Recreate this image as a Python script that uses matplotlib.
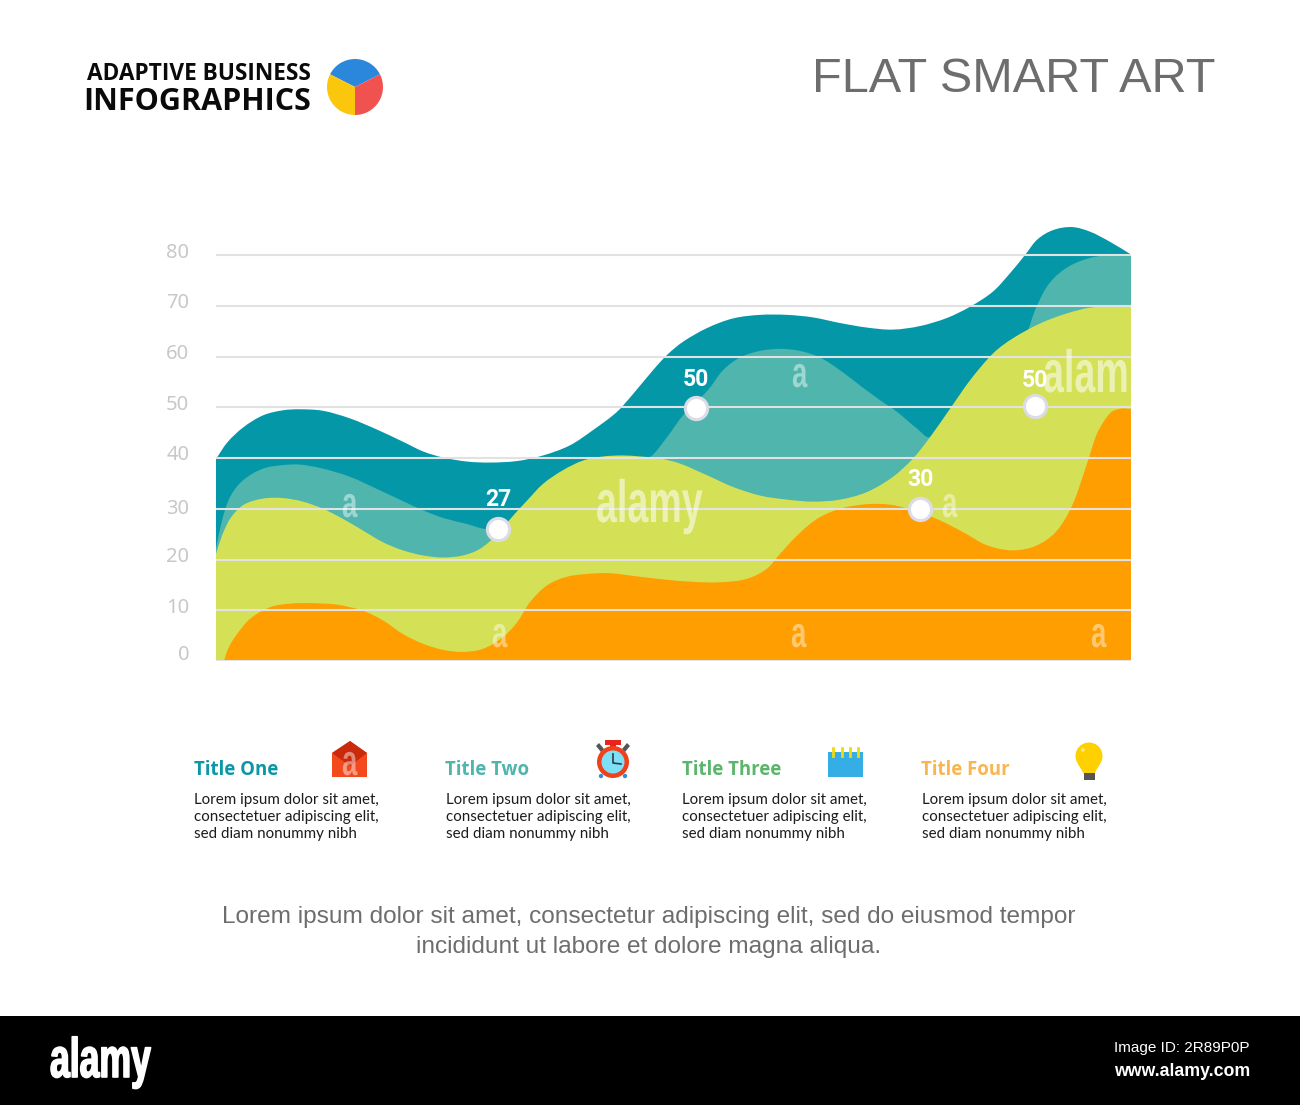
# -*- coding: utf-8 -*-
import matplotlib
matplotlib.use('Agg')
import matplotlib.pyplot as plt
from matplotlib.patches import Circle, PathPatch, Polygon, Rectangle
from matplotlib.patheffects import AbstractPathEffect
from matplotlib.path import Path
from matplotlib.transforms import Affine2D, ScaledTranslation

# values, x is the distance from the left end of the plot
one_x = [0, 11, 27, 47, 67, 84, 107, 134, 161, 187, 207, 227, 251, 274, 301, 327, 354, 377, 401, 417, 437,
         451, 467, 491, 517, 544, 571, 597, 624, 651, 677, 704, 731, 754, 777, 794, 809, 821, 837, 856, 874, 894, 915]
one_y = [39.8, 43.0, 46.0, 48.4, 49.4, 49.6, 49.3, 47.8, 45.6, 43.2, 41.3, 40.1, 39.3, 39.1, 39.4, 40.5, 42.5, 45.5, 49.1, 52.6, 57.3,
         60.3, 62.9, 65.6, 67.5, 68.2, 68.2, 67.7, 66.6, 65.7, 65.3, 66.0, 67.6, 69.8, 72.8, 76.4, 80.0, 83.0, 84.9, 85.5, 84.6, 82.6, 80.1]

two_x = [0, 6, 14, 27, 47, 67, 84, 107, 134, 161, 187, 207, 227, 251, 271, 290, 340, 390, 434,
         451, 467, 492, 507, 524, 544, 564, 584, 604, 624, 644, 664, 681, 701, 714, 760, 800, 812,
         819, 831, 847, 867, 891, 915]
two_y = [22.1, 27.7, 32.3, 35.6, 37.9, 38.6, 38.7, 37.9, 36.3, 33.9, 31.5, 29.7, 28.2, 27.0, 26.0, 27.0, 31.0, 37.0, 40.2,
         44.1, 48.4, 53.4, 57.3, 59.8, 61.1, 61.5, 61.1, 59.8, 57.3, 54.3, 51.4, 49.1, 45.8, 44.1, 50.0, 60.0, 65.2,
         69.1, 73.8, 77.0, 79.0, 80.0, 80.0]

three_x = [0, 6, 14, 27, 47, 67, 87, 107, 127, 147, 167, 187, 207, 227, 247, 264, 281, 297, 311, 327, 347, 367, 387, 407, 424,
           444, 464, 491, 517, 544, 571, 597, 624, 651, 677, 697, 714, 734, 754, 777, 797, 824, 851, 877, 915]
three_y = [21.1, 24.7, 28.0, 30.7, 32.0, 32.1, 31.4, 30.0, 28.0, 25.7, 23.4, 21.8, 20.8, 20.4, 20.8, 22.1, 24.9, 28.6, 31.6, 34.9, 37.6, 39.5, 40.3, 40.5, 40.3,
           39.9, 38.9, 36.6, 34.3, 32.6, 31.8, 31.4, 31.8, 33.3, 36.3, 39.9, 44.1, 49.7, 55.3, 60.6, 63.6, 66.5, 68.5, 69.7, 69.8]

four_x = [8, 12, 21, 34, 54, 74, 94, 121, 147, 167, 187, 207, 227, 247, 267, 287, 301, 314, 331, 351, 374, 394, 424,
          451, 477, 504, 531, 551, 564, 581, 601, 624, 651, 674, 697, 724, 747, 771, 797, 821, 841, 857, 871, 881, 894, 904, 915]
four_y = [0.0, 2.4, 5.3, 8.3, 10.6, 11.3, 11.4, 11.1, 9.9, 8.0, 5.3, 3.4, 2.2, 1.8, 2.4, 4.7, 7.6, 11.6, 14.9, 16.6, 17.2, 17.3, 16.6,
          16.0, 15.6, 15.5, 16.2, 18.2, 21.1, 24.7, 28.0, 30.0, 30.9, 30.8, 29.7, 27.7, 25.4, 22.8, 21.8, 22.8, 25.7, 31.0, 38.9, 44.8, 48.8, 49.7, 49.7]

dot_x = [282, 480, 704, 819]
dot_y = [26, 49.9, 30, 50.2]
dot_labels = ['27', '50', '30', '50']
dot_label_up = [21, 20, 21, 18.5]

y_ticks = [0, 10, 20, 30, 40, 50, 60, 70, 80]
logo_slices = [126, 117, 117]

titles = ['Title One', 'Title Two', 'Title Three', 'Title Four']
title_colors = ['#0c97a6', '#4fb5ad', '#5cb56c', '#f9b650']
legend_left = [194, 445, 682, 921]
lorem = ['Lorem ipsum dolor sit amet,', 'consectetuer adipiscing elit,', 'sed diam nonummy nibh']

TEAL = '#0497a8'
LIGHT_TEAL = '#4fb5ad'
YELLOW = '#d4e157'
ORANGE = '#ff9e00'
GREY = '#6d6d6d'


class Squeeze(AbstractPathEffect):
    # no condensed font installed, so narrow the glyphs from the left end of the text
    def __init__(self, sx, lw=0):
        super().__init__()
        self.sx = sx
        self.lw = lw

    def draw_path(self, renderer, gc, tpath, affine, rgbFace=None):
        gc.set_linewidth(self.lw)
        renderer.draw_path(gc, tpath, Affine2D().scale(self.sx, 1) + affine, rgbFace)


def area(ax, xs, ys, color, z):
    # smooth outline through the read points, closed along the baseline
    n = len(xs)
    slopes = []
    for i in range(n):
        a, b = max(i - 1, 0), min(i + 1, n - 1)
        slopes.append((ys[b] - ys[a]) / (xs[b] - xs[a]))
    verts = [(xs[0], 0), (xs[0], ys[0])]
    codes = [Path.MOVETO, Path.LINETO]
    for i in range(n - 1):
        h = (xs[i + 1] - xs[i]) / 3
        verts += [(xs[i] + h, ys[i] + slopes[i] * h),
                  (xs[i + 1] - h, ys[i + 1] - slopes[i + 1] * h),
                  (xs[i + 1], ys[i + 1])]
        codes += [Path.CURVE4] * 3
    verts += [(xs[-1], 0), (xs[0], 0)]
    codes += [Path.LINETO, Path.CLOSEPOLY]
    ax.add_patch(PathPatch(Path(verts, codes), facecolor=color, lw=0, zorder=z))


fig = plt.figure(figsize=(13, 11.05), dpi=100, facecolor='white')

# chart, y scale is 5.075 px per unit
ax = fig.add_axes([216 / 1300, (1105 - 661) / 1105, 915 / 1300, 456.75 / 1105])
ax.patch.set_alpha(0)
ax.set_xlim(0, 915)
ax.set_ylim(0, 90)
area(ax, one_x, one_y, TEAL, 1)
area(ax, two_x, two_y, LIGHT_TEAL, 2)
area(ax, three_x, three_y, YELLOW, 3)
area(ax, four_x, four_y, ORANGE, 4)
for t in y_ticks:
    ax.axhline(t, color='#e2e2e2', lw=1.5, zorder=5)
ax.plot(dot_x, dot_y, ls='none', marker='o', ms=16, mfc='white', mec='#dcdce6', mew=2.2, zorder=6)
for x, y, s, up in zip(dot_x, dot_y, dot_labels, dot_label_up):
    ax.annotate(s, (x, y), xytext=(0, up), textcoords='offset points', ha='center', va='center',
                color='white', fontsize=16.5, fontweight='bold', family='Roboto', zorder=7)

for s in ax.spines.values():
    s.set_visible(False)
ax.set_xticks([])
ax.set_yticks(y_ticks)
ax.tick_params(axis='y', length=0, pad=19.2, labelsize=14.5, labelcolor='#c8c8c8')
for t, lab in zip(y_ticks, ax.get_yticklabels()):
    lab.set_family('Noto Sans')
    up = {0: 9, 30: 2}.get(t, 5)
    lab.set_transform(lab.get_transform() + ScaledTranslation(0, up / 100, fig.dpi_scale_trans))

# everything else goes in pixel coordinates on top
pg = fig.add_axes([0, 0, 1, 1])
pg.patch.set_alpha(0)
pg.set_xlim(0, 1300)
pg.set_ylim(1105, 0)
pg.axis('off')

pg.text(1215, 79, 'FLAT SMART ART', ha='right', va='center', fontsize=35, color=GREY, family='Liberation Sans')
pg.text(311, 74, 'ADAPTIVE BUSINESS', ha='right', va='center', fontsize=16.3, fontweight='bold', color='#0a0a0a', family='Open Sans')
pg.text(311, 102, 'INFOGRAPHICS', ha='right', va='center', fontsize=22, fontweight='bold', color='#0a0a0a', family='Open Sans')

pie_ax = fig.add_axes([327 / 1300, (1105 - 115) / 1105, 56 / 1300, 56 / 1105])
pie_ax.pie(logo_slices, colors=['#2b87dc', '#fbc70d', '#f0524f'], startangle=27, radius=1.0)
pie_ax.set_xlim(-1, 1)
pie_ax.set_ylim(-1, 1)

for left, title, col in zip(legend_left, titles, title_colors):
    pg.text(left, 770, title, ha='left', va='center', fontsize=13.4, fontweight='bold', color=col, family='Open Sans')
    for i, line in enumerate(lorem):
        pg.text(left + 0.5, 800 + i * 17, line, ha='left', va='center', fontsize=10.9, color='#1c1c1c', family='Lato')

# house icon
pg.add_patch(Polygon([(332, 753), (350, 741), (367, 753), (367, 777), (332, 777)], color='#f24a1d', lw=0))
pg.add_patch(Polygon([(332, 753), (350, 741), (367, 753), (350, 766)], color='#c92a0b', lw=0))
# clock icon
pg.add_patch(Rectangle((605, 740), 16, 5, color='#e8251c', lw=0))
pg.add_patch(Rectangle((610, 744), 6, 4, color='#e8251c', lw=0))
pg.add_patch(Polygon([(596, 746), (599, 743), (604, 749), (601, 752)], color='#555555', lw=0))
pg.add_patch(Polygon([(630, 746), (627, 743), (622, 749), (625, 752)], color='#555555', lw=0))
pg.add_patch(Circle((601, 776), 2.2, color='#2f8fd0', lw=0))
pg.add_patch(Circle((625, 776), 2.2, color='#2f8fd0', lw=0))
pg.add_patch(Circle((613, 762), 16, color='#f0401c', lw=0))
pg.add_patch(Circle((613, 762), 11.5, color='#7fe0f5', lw=0))
pg.plot([613, 613, 621], [754, 763, 764], color='#2b3a4a', lw=1.2)
# notepad icon
pg.add_patch(Rectangle((828, 752), 35, 25, color='#35aee6', lw=0))
for rx in [833, 842, 850, 858]:
    pg.plot([rx, rx], [748, 756], color='#f5d90a', lw=2)
# bulb icon
pg.add_patch(Polygon([(1078, 764), (1100, 764), (1094, 774), (1084, 774)], color='#ffd000', lw=0))
pg.add_patch(Circle((1089, 756), 13.5, color='#ffd000', lw=0))
pg.add_patch(Circle((1083, 750), 1.8, color='#ffe98a', lw=0))
pg.add_patch(Rectangle((1084, 773), 11, 7, color='#555555', lw=0))

pg.text(649, 917, 'Lorem ipsum dolor sit amet, consectetur adipiscing elit, sed do eiusmod tempor',
        ha='center', va='center', fontsize=17.6, color=GREY, family='Liberation Sans')
pg.text(649, 947, 'incididunt ut labore et dolore magna aliqua.',
        ha='center', va='center', fontsize=17.6, color=GREY, family='Liberation Sans')

# stock photo watermarks, left end and baseline of each
for wx, wy in [(342, 517), (492, 647), (791, 647), (792, 387), (942, 517), (1091, 647), (342, 775)]:
    pg.text(wx, wy, 'a', ha='left', va='baseline', fontsize=31, fontweight='bold', color='white', alpha=0.45,
            family='Liberation Sans', path_effects=[Squeeze(0.64)])
for wx, wy, mark in [(596, 522, 'alamy'), (1043, 392, 'alam')]:
    pg.text(wx, wy, mark, ha='left', va='baseline', fontsize=43, fontweight='bold', color='white', alpha=0.55,
            family='Liberation Sans', path_effects=[Squeeze(0.63)])

# black band
pg.add_patch(Rectangle((0, 1016), 1300, 89, color='black', lw=0))
pg.text(50, 1077, 'alamy', ha='left', va='baseline', fontsize=40, fontweight='bold', color='white',
        family='Liberation Sans', path_effects=[Squeeze(0.64, 1.2)])
pg.text(1250, 1048, 'Image ID: 2R89P0P', ha='right', va='center', fontsize=11, color='white', family='Liberation Sans')
pg.text(1250, 1071, 'www.alamy.com', ha='right', va='center', fontsize=12.8, fontweight='bold', color='white', family='Liberation Sans')

fig.savefig('out.png', dpi=100)
